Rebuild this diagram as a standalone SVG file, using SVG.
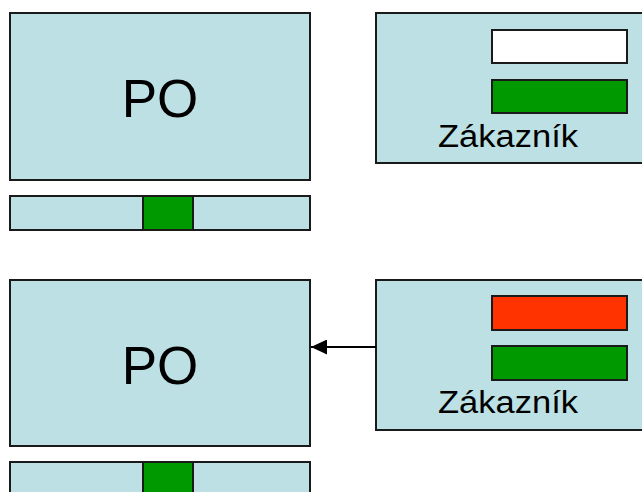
<svg xmlns="http://www.w3.org/2000/svg" width="642" height="492" viewBox="0 0 642 492">
<defs>
<style>
.box{fill:#BCE0E3;stroke:#1a1a1a;stroke-width:2}
.g{fill:#009900;stroke:#1a1a1a;stroke-width:2}
.w{fill:#ffffff;stroke:#1a1a1a;stroke-width:2}
.r{fill:#FF3300;stroke:#1a1a1a;stroke-width:2}
.po{font-family:"Liberation Sans",Arial,sans-serif;font-size:53px;fill:#000;text-anchor:middle}
.zk{font-family:"Liberation Sans",Arial,sans-serif;font-size:31px;fill:#000}
</style>
<marker id="ah" markerWidth="16" markerHeight="15" refX="16" refY="7.5" orient="auto" markerUnits="userSpaceOnUse">
<path d="M0,0 L16,7.5 L0,15 Z" fill="#000"/>
</marker>
</defs>
<rect width="642" height="492" fill="#fff"/>
<g id="po1">
<rect class="box" x="10" y="13" width="300" height="167"/>
<text class="po" x="160" y="117">PO</text>
</g>
<g id="bar1">
<rect class="box" x="10" y="196" width="300" height="34"/>
<rect class="g" x="143" y="196" width="50" height="34"/>
</g>
<g id="zak1">
<rect class="box" x="376" y="13" width="270" height="150"/>
<rect class="w" x="492" y="30" width="135" height="33"/>
<rect class="g" x="492" y="80" width="135" height="33"/>
<text class="zk" x="438" y="147" textLength="140" lengthAdjust="spacingAndGlyphs">Zákazník</text>
</g>
<g id="po2">
<rect class="box" x="10" y="280" width="300" height="166"/>
<text class="po" x="160" y="384">PO</text>
</g>
<g id="bar2">
<rect class="box" x="10" y="462" width="300" height="40"/>
<rect class="g" x="143" y="462" width="50" height="40"/>
</g>
<g id="zak2">
<rect class="box" x="376" y="280" width="270" height="150"/>
<rect class="r" x="492" y="296" width="135" height="34"/>
<rect class="g" x="492" y="346" width="135" height="34"/>
<text class="zk" x="438" y="413" textLength="140" lengthAdjust="spacingAndGlyphs">Zákazník</text>
</g>
<g id="connectors">
<line x1="376" y1="347" x2="311" y2="347" stroke="#000" stroke-width="2" marker-end="url(#ah)"/>
</g>
</svg>
